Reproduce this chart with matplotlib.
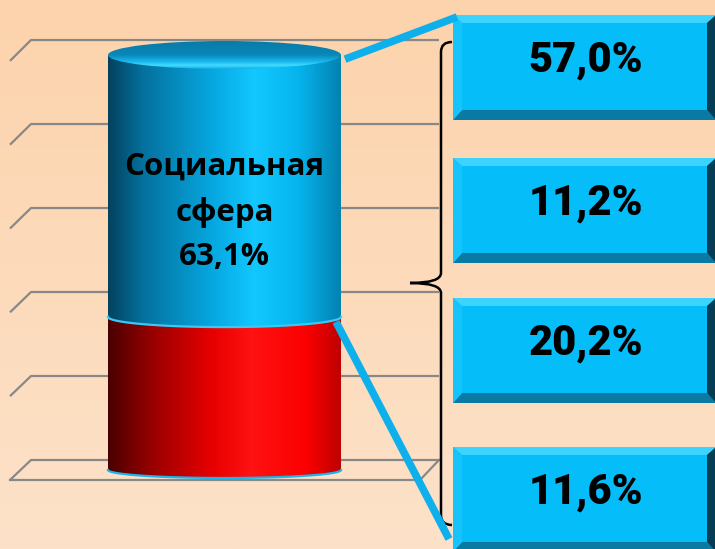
import numpy as np
import matplotlib
matplotlib.use("Agg")
import matplotlib.pyplot as plt
from matplotlib.colors import LinearSegmentedColormap
from matplotlib.patches import PathPatch, Ellipse, Rectangle, Polygon, ConnectionPatch
from matplotlib.path import Path

# --- data ---
SEGMENT_VALUES = [36.9, 63.1]          # red (bottom), blue (top), %
SEGMENT_LABEL = ["Социальная", "сфера", "63,1%"]
GRID_TICKS = [0, 20, 40, 60, 80, 100]
BOX_VALUES = [57.0, 11.2, 20.2, 11.6]

# --- layout (pixels of a 715x549 canvas) ---
W, H = 715, 549
PX_ZERO = 470.0
PX_PER_PCT = 4.15
BAR_X0, BAR_X1 = 108, 341
BOX_TOPS = [15, 158, 298, 447]
BOX_H = 105
BOX_X0, BOX_X1 = 453, 716

plt.rcParams['font.family'] = ['Open Sans', 'DejaVu Sans']

fig = plt.figure(figsize=(7.15, 5.49), dpi=100)

# background gradient
bg = fig.add_axes([0, 0, 1, 1], zorder=0)
bg_cmap = LinearSegmentedColormap.from_list("bg", ["#fcd3ac", "#fde2c9"])
bg.imshow(np.linspace(0, 1, 256).reshape(-1, 1), cmap=bg_cmap, aspect="auto",
          extent=[0, 1, 0, 1])
bg.axis("off")

# chart axes: x in pixels, y in percent
ax = fig.add_axes([0, 0, 1, 1], zorder=1)
ax.patch.set_alpha(0)
ax.axis("off")


def px(p):
    return p / PX_PER_PCT


# perspective gridlines
for t in GRID_TICKS:
    yb = t * 1.012 + px(10)
    yf = t * 1.01 - px(10)
    ax.plot([10, 31, 439], [yf, yb, yb], color="#888888", lw=1.6, zorder=1,
            solid_capstyle="butt")
    if t == 0:
        ax.plot([10, 420, 439], [yf, yf, yb], color="#888888", lw=1.6, zorder=1)

blue_cmap = LinearSegmentedColormap.from_list("blue", [
    (0.0, "#03425d"), (0.15, "#04719e"), (0.45, "#06a8e0"),
    (0.63, "#12c8ff"), (0.82, "#06b4ee"), (1.0, "#0382b0")])
red_cmap = LinearSegmentedColormap.from_list("red", [
    (0.0, "#4a0000"), (0.2, "#9c0000"), (0.45, "#e80000"),
    (0.62, "#ff1212"), (0.85, "#fb0000"), (1.0, "#bf0000")])
cap_cmap = LinearSegmentedColormap.from_list("cap", [
    (0.0, "#0a7aa8"), (0.5, "#0888b9"), (0.76, "#1cbdf2"),
    (0.87, "#45dbff"), (1.0, "#12aee6")])

cx = (BAR_X0 + BAR_X1) / 2
rx = (BAR_X1 - BAR_X0) / 2
grad = np.linspace(0, 1, 256).reshape(1, -1)


def ry_at(p):
    return px(8 + 0.06 * p)


bottom = 0.0
for i, (val, cmap) in enumerate(zip(SEGMENT_VALUES, [red_cmap, blue_cmap])):
    top = bottom + val
    ryb = ry_at(bottom)
    tt = np.linspace(np.pi, 2 * np.pi, 80)
    xs = cx + rx * np.cos(tt)
    ys = bottom + ryb * np.sin(tt)
    verts = np.vstack([np.column_stack([xs, ys]),
                       [[BAR_X1, top], [BAR_X0, top], [xs[0], ys[0]]]])
    clip = PathPatch(Path(verts), transform=ax.transData, facecolor="none",
                     edgecolor="none")
    ax.add_patch(clip)
    im = ax.imshow(grad, cmap=cmap, aspect="auto", zorder=3 + i,
                   extent=[BAR_X0, BAR_X1, bottom - ryb, top + ry_at(top)])
    im.set_clip_path(clip)
    edge = "#19b6ee" if i == 0 else "#3cc8f4"
    ax.plot(xs, ys, color=edge, lw=1.6, zorder=3.5 + i)
    bottom = top

# top cap of the cylinder
ryt = ry_at(bottom)
cap = Ellipse((cx, bottom), 2 * rx, 2 * ryt, transform=ax.transData,
              facecolor="none", edgecolor="none")
ax.add_patch(cap)
im = ax.imshow(np.linspace(0, 1, 128).reshape(-1, 1), cmap=cap_cmap, aspect="auto",
               zorder=6, extent=[BAR_X0, BAR_X1, bottom - ryt, bottom + ryt])
im.set_clip_path(cap)

# label inside the blue segment
label_y = SEGMENT_VALUES[0] + SEGMENT_VALUES[1] * 0.4
for k, line in enumerate(SEGMENT_LABEL):
    ax.text(cx, label_y + px(45) * (1 - k), line, ha="center", va="center",
            fontsize=22.5, fontweight="bold", color="black", zorder=8)

ax.set_xlim(0, W)
ax.set_ylim(px(PX_ZERO - H), px(PX_ZERO))

# decorations in pixel coordinates
deco = fig.add_axes([0, 0, 1, 1], zorder=2)
deco.patch.set_alpha(0)
deco.set_xlim(0, W)
deco.set_ylim(H, 0)
deco.axis("off")

b_top, b_bot, b_side = 8, 10, 9
for top, val in zip(BOX_TOPS, BOX_VALUES):
    y0, y1 = top, top + BOX_H
    x0, x1 = BOX_X0, BOX_X1
    deco.add_patch(Rectangle((x0, y0), x1 - x0, y1 - y0, facecolor="#04bdf9",
                             edgecolor="none"))
    deco.add_patch(Polygon([(x0, y0), (x1, y0), (x1 - b_side, y0 + b_top),
                            (x0 + b_side, y0 + b_top)], facecolor="#3cd3ff",
                           edgecolor="none"))
    deco.add_patch(Polygon([(x0, y1), (x1, y1), (x1 - b_side, y1 - b_bot),
                            (x0 + b_side, y1 - b_bot)], facecolor="#0a7aa2",
                           edgecolor="none"))
    deco.add_patch(Polygon([(x0, y0), (x0 + b_side, y0 + b_top),
                            (x0 + b_side, y1 - b_bot), (x0, y1)],
                           facecolor="#16c4fb", edgecolor="none"))
    deco.add_patch(Polygon([(x1, y0), (x1 - b_side, y0 + b_top),
                            (x1 - b_side, y1 - b_bot), (x1, y1)],
                           facecolor="#063d55", edgecolor="none"))
    txt = f"{val:.1f}".replace(".", ",") + "%"
    deco.text(586, (y0 + y1) / 2 - 7, txt, ha="center", va="center",
              fontsize=30, fontweight=900, color="black",
              family=["Roboto", "DejaVu Sans"])

# curly brace
bx, tipx = 441, 410
yt, ym, yb = 42, 283, 525
verts = [(452, yt), (bx, yt), (bx, yt + 10), (bx, ym - 10), (bx, ym), (tipx, ym),
         (bx, ym), (bx, ym + 10), (bx, yb - 10), (bx, yb), (452, yb)]
codes = [Path.MOVETO, Path.CURVE3, Path.CURVE3, Path.LINETO, Path.CURVE3,
         Path.CURVE3, Path.CURVE3, Path.CURVE3, Path.LINETO, Path.CURVE3,
         Path.CURVE3]
deco.add_patch(PathPatch(Path(verts, codes), facecolor="none", edgecolor="black",
                         lw=1.8))

# connector lines from the cylinder to the boxes
total = sum(SEGMENT_VALUES)
for start, end in [((BAR_X1 + 4, total - 1.0), (457, 17)),
                   ((BAR_X1 - 5, SEGMENT_VALUES[0] - 1.2), (449, 539))]:
    con = ConnectionPatch(xyA=start, coordsA=ax.transData, xyB=end,
                          coordsB=deco.transData, color="#0db0ea", lw=5.5,
                          capstyle="butt")
    fig.add_artist(con)
    con.set_zorder(5)

fig.savefig("out.png", dpi=100)
